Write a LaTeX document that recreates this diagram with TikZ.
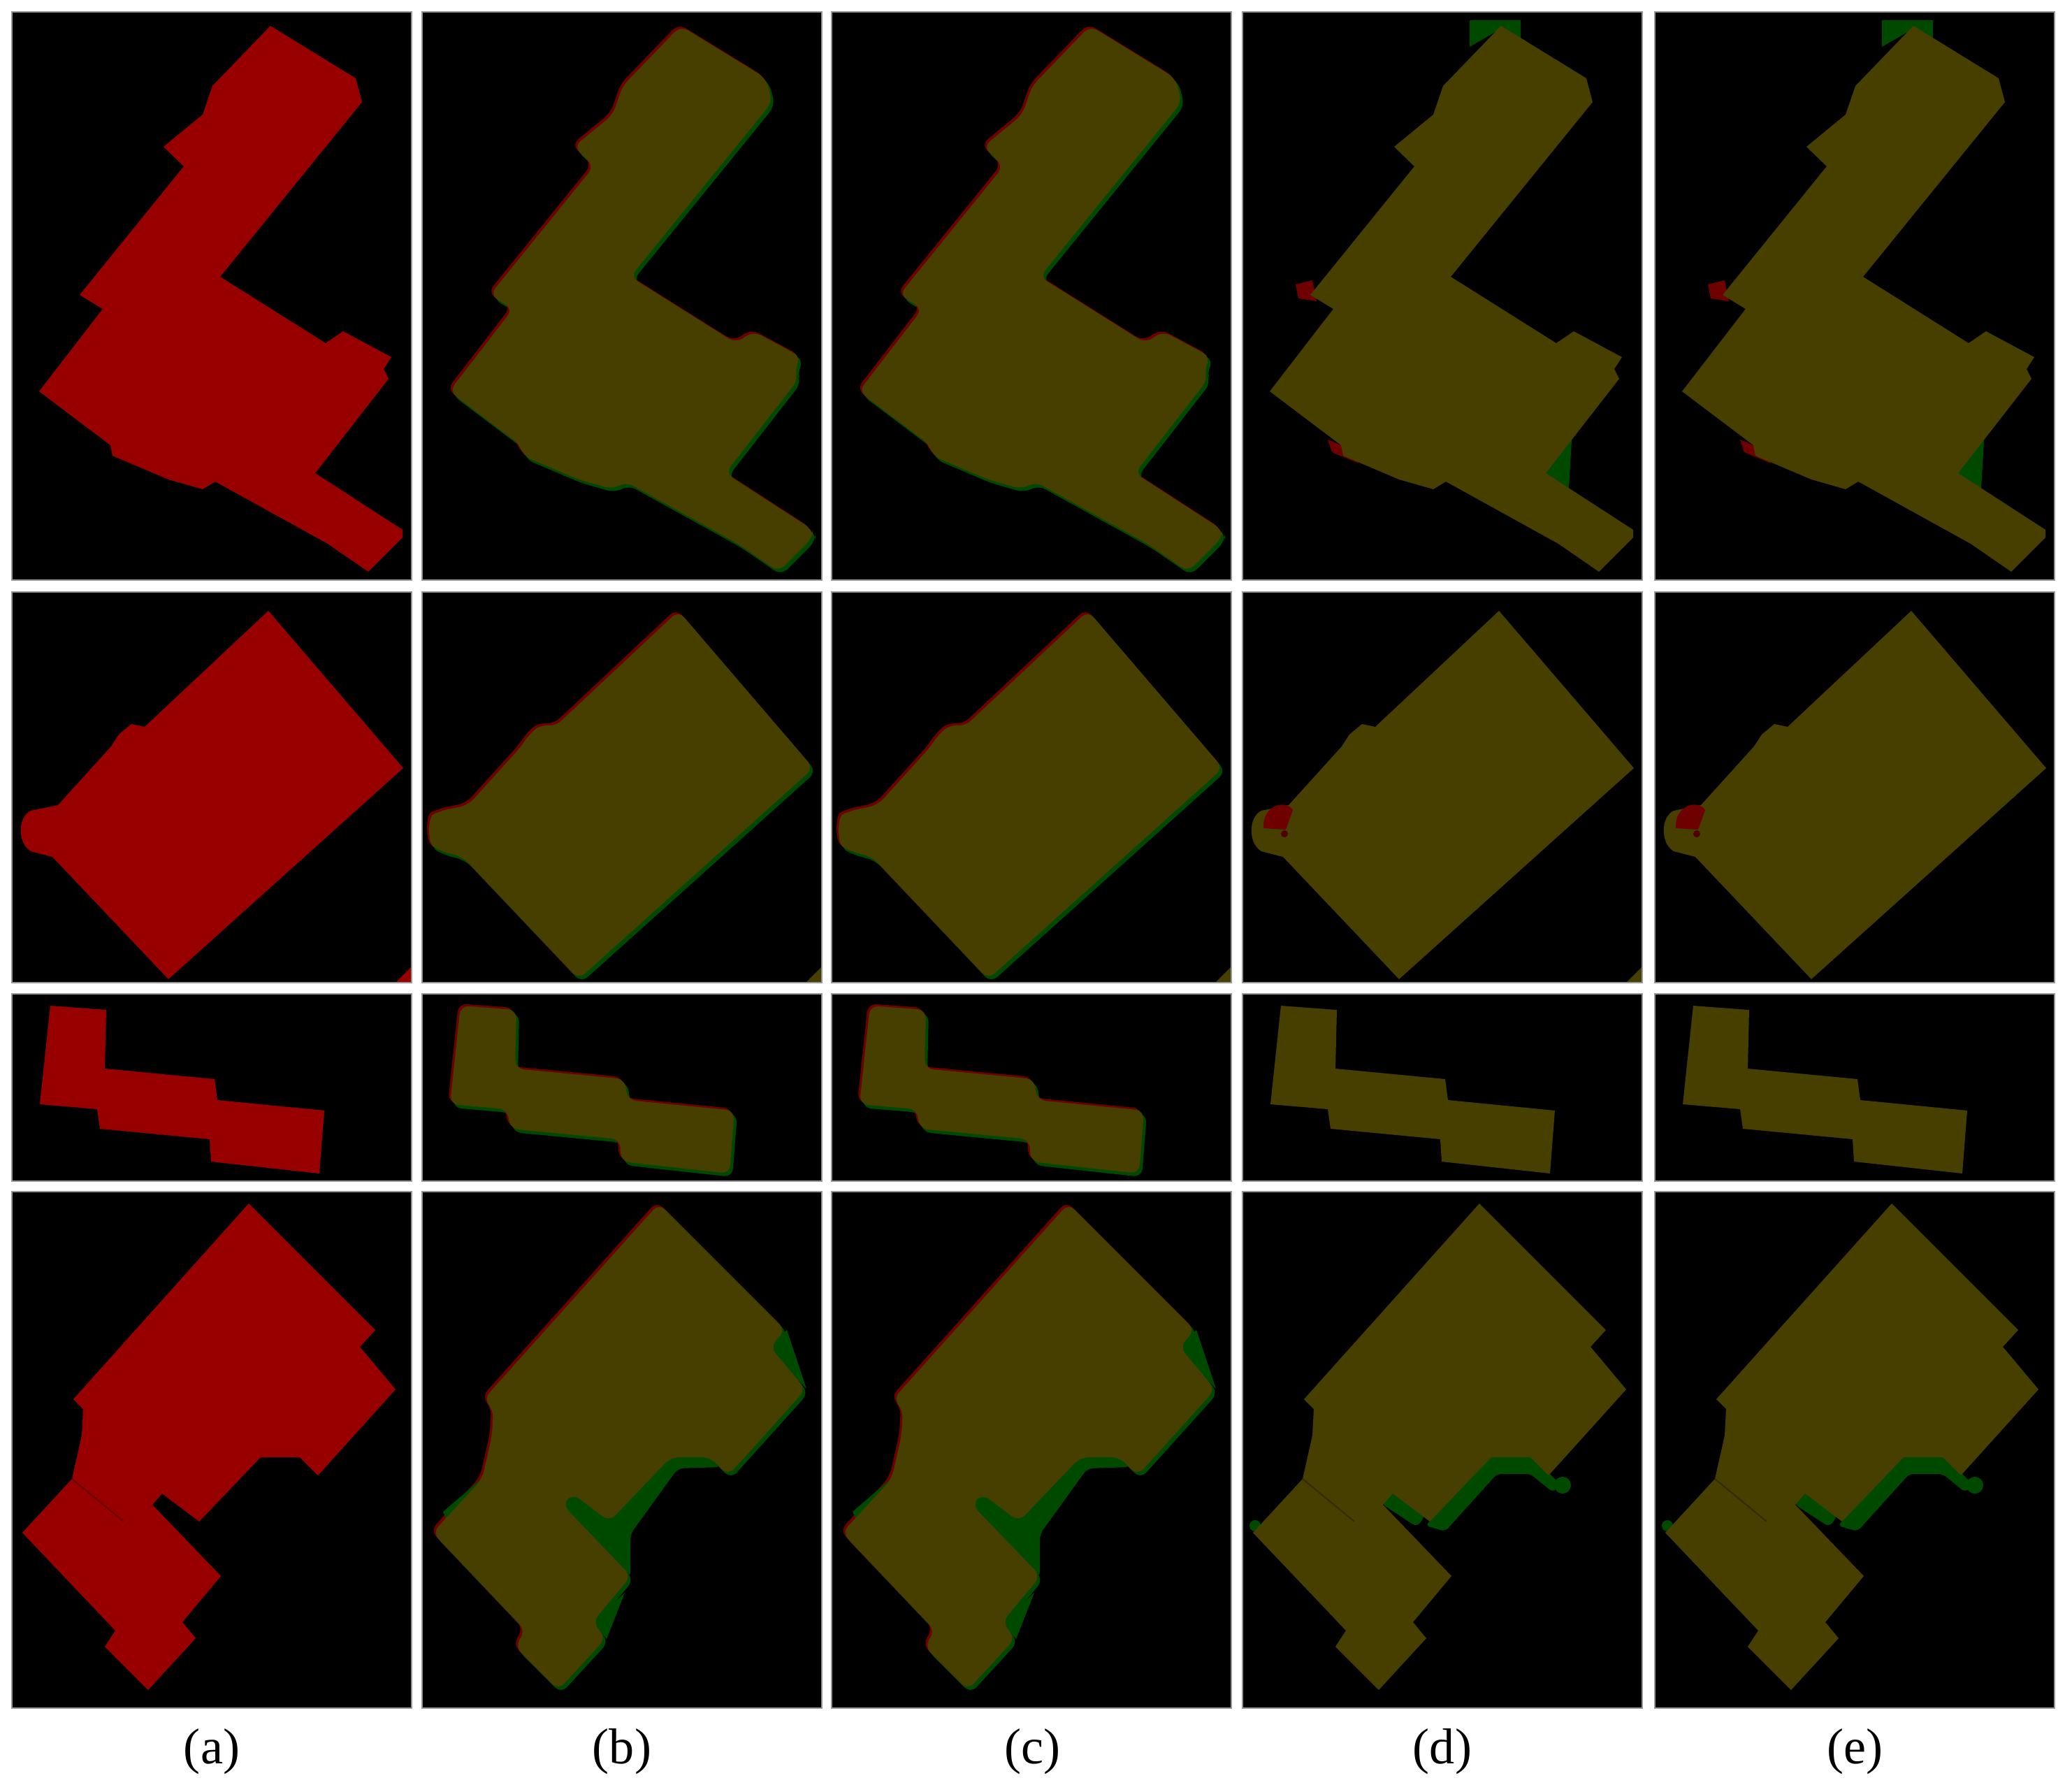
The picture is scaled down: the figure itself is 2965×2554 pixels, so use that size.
\documentclass[tikz,border=0pt]{standalone}
\usepackage{fontspec}
\setmainfont{Liberation Serif}
\definecolor{gtred}{RGB}{152,0,0}
\definecolor{ovl}{RGB}{71,63,0}
\definecolor{fgreen}{RGB}{0,74,0}
\definecolor{fred}{RGB}{110,0,0}
\definecolor{framegray}{RGB}{150,150,150}
\tikzset{
  x=0.01cm, y=-0.01cm,
  lab/.style={font=\fontsize{20.5}{24}\selectfont, inner sep=0pt},
  shpA/.pic={\path[pic actions] (370,20) -- (492,95) -- (501,129) -- (298,379) -- (449,474) -- (474,457) -- (543,494) -- (532,511) -- (539,525) -- (434,660) -- (559,741) -- (559,752) -- (510,801) -- (452,761) -- (291,672) -- (273,683) -- (224,669) -- (144,635) -- (141,620) -- (39,543) -- (130,425) -- (97,405) -- (246,221) -- (217,193) -- (273,147) -- (287,106) -- cycle;},
  shpB/.pic={\path[pic actions] (367,27) -- (560,252) -- (224,554) -- (58,379) -- (27,371) .. controls (8,360) and (8,322) .. (27,313) -- (66,305) -- (142,221) -- (153,204) -- (171,189) -- (190,193) -- cycle;},
  shpC/.pic={\path[pic actions] (55,17) -- (135,23) -- (133,107) -- (290,122) -- (294,152) -- (447,167) -- (440,257) -- (285,240) -- (283,208) -- (126,193) -- (122,165) -- (40,158) -- cycle;},
  shpD/.pic={\path[pic actions] (339,17) -- (520,198) -- (498,222) -- (549,283) -- (438,406) -- (412,380) -- (356,380) -- (268,472) -- (215,432) -- (201,448) -- (299,550) -- (244,616) -- (263,639) -- (195,713) -- (133,651) -- (148,628) -- (15,488) -- (86,411) -- (100,349) -- (102,311) -- (88,297) -- cycle;},
}
\newcommand\myshape[2]{\ifcase#1\or\pic[#2] at (\X,\Y) {shpA};\or\pic[#2] at (\X,\Y) {shpB};\or\pic[#2] at (\X,\Y) {shpC};\or\pic[#2] at (\X,\Y) {shpD};\fi}
\begin{document}
\begin{tikzpicture}
\useasboundingbox (0,0) rectangle (2965,2554);
\fill[white] (0,0) rectangle (2965,2554);
\foreach \X [count=\ci] in {17,604,1190,1778,2368} {
  \foreach \Y/\H [count=\ri] in {17/813,847/559,1422/268,1705/739} {
    \begin{scope}
      \clip (\X,\Y) rectangle ++(572,\H);
      \fill[black] (\X,\Y) rectangle ++(572,\H);
      % (a) ground truth
      \ifnum\ci=1
        \myshape{\ri}{fill=gtred}
        \ifnum\ri=2 \fill[gtred,shift={(\X,\Y)}] (548,560) -- (572,536) -- (572,560) -- cycle; \fi
        \ifnum\ri=4 \draw[gtred!70!black,line width=0.6pt,shift={(\X,\Y)}] (86,411) -- (160,472); \fi
      \fi
      % (b), (c) smooth results
      \ifnum\ci>1 \ifnum\ci<4
        \myshape{\ri}{fill=fgreen, shift={(4,5)}, rounded corners=0.12cm}
        \myshape{\ri}{fill=fred, shift={(-3,-3)}, rounded corners=0.12cm}
        \ifnum\ri=4
          \begin{scope}[shift={(\X,\Y)}]
            \fill[fgreen,rounded corners=0.08cm] (195,452) -- (220,424) -- (268,460) -- (350,370) -- (428,370) -- (428,394) -- (366,396) -- (298,490) -- (298,552) -- cycle;
            \fill[fgreen] (494,224) -- (522,198) -- (550,282) -- cycle;
            \fill[fgreen] (244,616) -- (290,574) -- (264,640) -- cycle;
            \fill[fgreen] (30,458) -- (86,410) -- (92,420) -- (36,470) -- cycle;
          \end{scope}
        \fi
        \myshape{\ri}{fill=ovl, rounded corners=0.12cm}
        \ifnum\ri=2 \fill[ovl,shift={(\X,\Y)}] (548,560) -- (572,536) -- (572,560) -- cycle; \fi
      \fi\fi
      % (d), (e) sharp results
      \ifnum\ci>3
        \begin{scope}[shift={(\X,\Y)}]
          \ifnum\ri=1
            \fill[fgreen] (325,12) -- (398,12) -- (398,42) -- (370,24) -- (325,50) -- cycle;
            \fill[fgreen] (428,662) -- (472,596) -- (467,682) -- cycle;
            \fill[fred] (76,390) -- (100,384) -- (106,414) -- (80,410) -- cycle;
            \fill[fred] (122,612) -- (160,628) -- (166,646) -- (128,630) -- cycle;
          \fi
          \ifnum\ri=4
            \fill[fgreen,rounded corners=0.08cm] (198,446) -- (216,426) -- (262,462) -- (250,480) -- cycle;
            \fill[fgreen,rounded corners=0.06cm] (262,478) -- (356,376) -- (412,376) -- (438,402) -- (456,420) -- (444,430) -- (412,404) -- (364,404) -- (290,486) -- cycle;
            \fill[fgreen] (458,420) circle[radius=12];
            \fill[fgreen] (18,478) circle[radius=8];
          \fi
        \end{scope}
        \myshape{\ri}{fill=ovl}
        \begin{scope}[shift={(\X,\Y)}]
          \ifnum\ri=2
            \ifnum\ci=4 \fill[ovl] (548,560) -- (572,536) -- (572,560) -- cycle; \fi
            \fill[fred] (30,338) .. controls (28,305) and (62,296) .. (72,312) -- (62,340) -- cycle;
            \fill[fred!70!black] (60,346) circle[radius=5];
          \fi
          \ifnum\ri=4 \draw[ovl!70!black,line width=0.6pt] (86,411) -- (160,472); \fi
        \end{scope}
      \fi
    \end{scope}
    \draw[framegray,line width=0.6pt] (\X,\Y) rectangle ++(572,\H);
  }
}
\node[lab] (la) at (303,2506) {(a)};
\node[lab] (lb) at (890,2506) {(b)};
\node[lab] (lc) at (1477,2506) {(c)};
\node[lab] (ld) at (2064,2506) {(d)};
\node[lab] (le) at (2654,2506) {(e)};
\end{tikzpicture}
\end{document}
